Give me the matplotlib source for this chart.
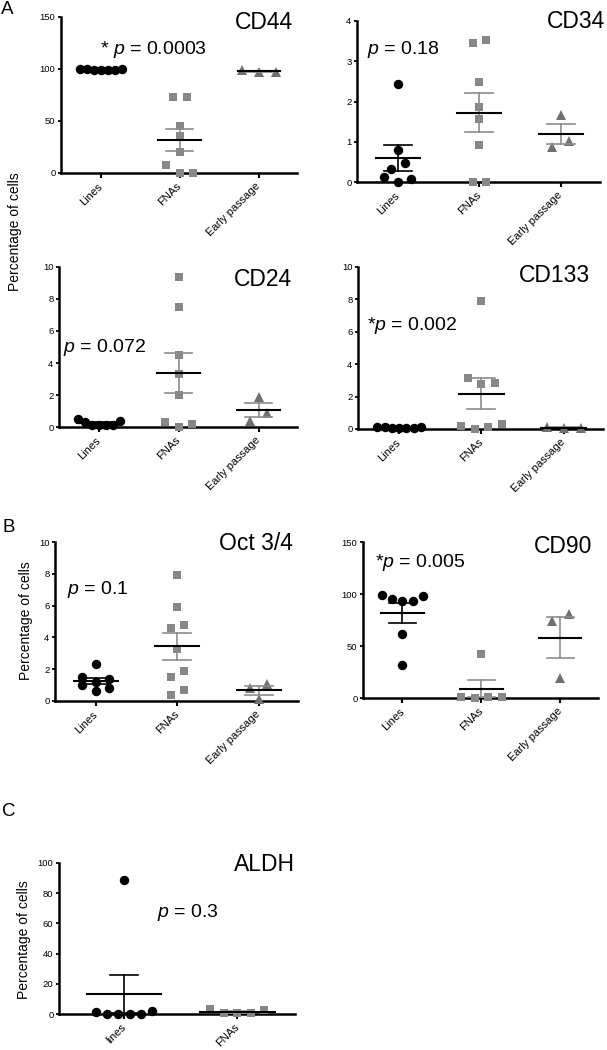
import numpy as np
import matplotlib
matplotlib.use("Agg")
import matplotlib.pyplot as plt

plt.rcParams['font.family'] = ['Liberation Sans', 'DejaVu Sans']
plt.rcParams['mathtext.fontset'] = 'custom'
plt.rcParams['mathtext.rm'] = 'Liberation Sans'
plt.rcParams['mathtext.it'] = 'Liberation Sans:italic'

groups = ["Lines", "FNAs", "Early passage"]
groups_c = ["lines", "FNAs"]

# values (percentage of cells)
cd44_lines = [100, 99.5, 99, 99, 99.5, 100, 100]
cd44_fnas = [73, 73, 45, 36, 20, 8, 0, 0]
cd44_early = [99, 97, 97]
cd34_lines = [2.43, 0.79, 0.46, 0.33, 0.12, 0.0, 0.07]
cd34_fnas = [3.45, 3.54, 2.48, 1.86, 1.57, 0.91, 0.0, 0.0]
cd34_early = [1.67, 0.87, 1.03]
cd24_lines = [0.5, 0.3, 0.15, 0.1, 0.1, 0.15, 0.35]
cd24_fnas = [9.4, 7.5, 4.5, 3.3, 2.0, 0.3, 0.0, 0.2]
cd24_early = [1.9, 0.9, 0.35]
cd133_lines = [0.1, 0.05, 0.1, 0.05, 0.08, 0.05, 0.1]
cd133_fnas = [7.9, 3.15, 2.85, 2.8, 0.3, 0.2, 0.15, 0.0]
cd133_early = [0.15, 0.05, 0.05]
oct_lines = [2.3, 1.5, 1.4, 1.2, 1.0, 0.8, 0.6]
oct_fnas = [7.9, 5.9, 4.8, 4.6, 3.3, 1.9, 1.5, 0.7, 0.35]
oct_early = [1.04, 0.83, 0.15]
cd90_lines = [99, 95, 93, 93, 98, 62, 32]
cd90_fnas = [42, 1, 0, 1, 1]
cd90_early = [74, 81, 19]
aldh_lines = [89, 1.5, 0, 0, 1.8, 0, 0]
aldh_fnas = [3.5, 0.5, 0.5, 0.5, 2.5]

W, H = 607, 1050
fig = plt.figure(figsize=(W / 100, H / 100), dpi=100)

BLACK = '#000000'
SQ = '#878787'
TRI = '#707070'
EGRAY = '#8c8c8c'


def swarm(vals, ppx, ppy, spacing, maxw, rowgap=9):
    # put points of similar height side by side, like a column scatter
    order = np.argsort(vals, kind='stable')
    offs = np.zeros(len(vals))
    rows = []
    for i in order:
        if rows and (vals[i] - vals[rows[-1][0]]) * ppy < rowgap:
            rows[-1].append(i)
        else:
            rows.append([i])
    for row in rows:
        n = len(row)
        if n == 1:
            continue
        step = min(spacing, maxw / (n - 1))
        pos = [(k - (n - 1) / 2) * step for k in range(n)]
        if n % 2:
            pos.sort(key=lambda p: (abs(p), -p))
        else:
            pos.sort(key=lambda p: (abs(p), p))
        for p, i in zip(pos, row):
            offs[i] = p / ppx
    return offs


def draw_group(ax, x0, vals, style, ppx, ppy, half_mean, half_cap, maxw):
    vals = np.asarray(vals, float)
    marker, color, ms, ecol, spacing = style
    offs = swarm(vals, ppx, ppy, spacing, maxw * ppx)
    ax.plot(x0 + offs, vals, ls='none', marker=marker, ms=ms, color=color,
            mec=color, mew=0, clip_on=False, zorder=3)
    m = vals.mean()
    s = vals.std(ddof=1) / np.sqrt(len(vals))
    ax.plot([x0, x0], [m - s, m + s], color=ecol, lw=1.2, zorder=4, clip_on=False)
    for y in (m - s, m + s):
        ax.plot([x0 - half_cap, x0 + half_cap], [y, y], color=ecol, lw=1.2,
                zorder=4, clip_on=False)
    ax.plot([x0 - half_mean, x0 + half_mean], [m, m], color='black', lw=1.5,
            zorder=5, clip_on=False)


styles = [('o', BLACK, 6.8, BLACK, 13.5),
          ('s', SQ, 5.8, EGRAY, 13.5),
          ('^', TRI, 7.2, EGRAY, 17)]


def panel(box, data, labels, ylim, yticks, title, tpos, ptext, ppos,
          xlim=(-0.5, 2.48), half_mean=0.27, half_cap=0.17, maxw=0.53):
    l, r, t, b = box
    ax = fig.add_axes([l / W, 1 - b / H, (r - l) / W, (b - t) / H])
    ax.set_xlim(*xlim)
    ax.set_ylim(*ylim)
    ppx = (r - l) / (xlim[1] - xlim[0])
    ppy = (b - t) / (ylim[1] - ylim[0])
    for i, vals in enumerate(data):
        draw_group(ax, i, vals, styles[i], ppx, ppy, half_mean, half_cap, maxw)
    ax.set_xticks(range(len(labels)))
    ax.set_xticklabels(labels, rotation=45, ha='right', va='center',
                       rotation_mode='anchor', fontsize=8)
    ax.set_yticks(yticks)
    ax.tick_params(axis='y', labelsize=6.8, length=2.5, width=1.3, pad=1.5)
    ax.tick_params(axis='x', length=3.5, width=1.5, pad=5)
    for side in ('top', 'right'):
        ax.spines[side].set_visible(False)
    for side in ('left', 'bottom'):
        ax.spines[side].set_linewidth(1.8)
    ax.text(tpos[0], tpos[1], title, transform=ax.transAxes, fontsize=16.5,
            ha='right', va='center')
    ax.text(ppos[0], ppos[1], ptext, transform=ax.transAxes, fontsize=14,
            ha='left', va='center')
    return ax


panel((61, 297, 17, 173), [cd44_lines, cd44_fnas, cd44_early], groups,
      (0, 150), [0, 50, 100, 150], "CD44", (0.983, 0.965),
      r"* $p$ = 0.0003", (0.165, 0.79))
panel((357, 600, 21, 182), [cd34_lines, cd34_fnas, cd34_early], groups,
      (0, 4), [0, 1, 2, 3, 4], "CD34", (1.02, 1.0),
      r"$p$ = 0.18", (0.04, 0.826))
panel((59, 297, 267, 427), [cd24_lines, cd24_fnas, cd24_early], groups,
      (0, 10), [0, 2, 4, 6, 8, 10], "CD24", (0.98, 0.92),
      r"$p$ = 0.072", (0.017, 0.5))
panel((358, 603, 267, 429), [cd133_lines, cd133_fnas, cd133_early], groups,
      (0, 10), [0, 2, 4, 6, 8, 10], "CD133", (0.947, 0.95),
      r"*$p$ = 0.002", (0.037, 0.636))
panel((55, 298, 542, 701), [oct_lines, oct_fnas, oct_early], groups,
      (0, 10), [0, 2, 4, 6, 8, 10], "Oct 3/4", (0.98, 0.99),
      r"$p$ = 0.1", (0.05, 0.70))
panel((363, 598, 542, 698), [cd90_lines, cd90_fnas, cd90_early], groups,
      (0, 150), [0, 50, 100, 150], "CD90", (0.974, 0.97),
      r"*$p$ = 0.005", (0.05, 0.87))
panel((59, 295, 863, 1014), [aldh_lines, aldh_fnas], groups_c,
      (0, 100), [0, 20, 40, 60, 80, 100], "ALDH", (1.0, 0.99),
      r"$p$ = 0.3", (0.415, 0.675),
      xlim=(-0.575, 1.51), half_mean=0.33, half_cap=0.125, maxw=0.5)

# y labels and panel letters
fig.text(15 / W, 1 - 232 / H, "Percentage of cells", rotation=90,
         ha='center', va='center', fontsize=10)
fig.text(26 / W, 1 - 621 / H, "Percentage of cells", rotation=90,
         ha='center', va='center', fontsize=10)
fig.text(24 / W, 1 - 940 / H, "Percentage of cells", rotation=90,
         ha='center', va='center', fontsize=10)
fig.text(1 / W, 1 - 9 / H, "A", fontsize=13.5, ha='left', va='center')
fig.text(2 / W, 1 - 527 / H, "B", fontsize=13.5, ha='left', va='center')
fig.text(2 / W, 1 - 812 / H, "C", fontsize=13.5, ha='left', va='center')

fig.savefig("out.png", dpi=100)
